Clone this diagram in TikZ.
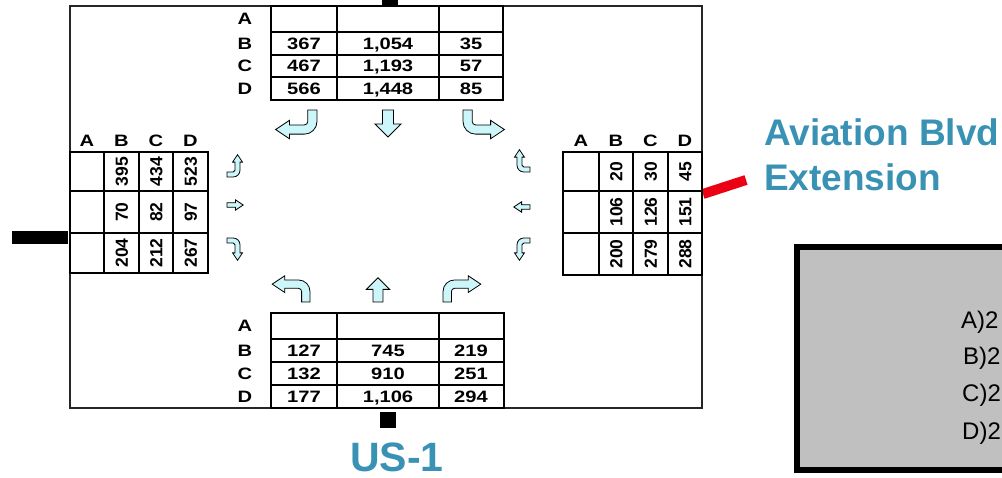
\documentclass[tikz,border=0pt]{standalone}
\usepackage{fontspec}
\setmainfont{Liberation Sans}
\definecolor{roadblue}{RGB}{57,146,180}
\definecolor{arrowcyan}{RGB}{204,246,250}
\definecolor{boxgray}{RGB}{192,192,192}
\definecolor{roadred}{RGB}{235,0,20}
\begin{document}
\begin{tikzpicture}[x=1pt,y=-1pt,
  tbl/.style={draw=black,line width=1.7pt},
  frm/.style={draw=black!85,line width=1.2pt},
  num/.style={font=\fontsize{16.5}{18}\selectfont\bfseries,inner sep=0pt,text height=11.8pt,text depth=0pt,xscale=1.22},
  vnum/.style={font=\fontsize{17.5}{19}\selectfont\bfseries,inner sep=0pt,text height=12.5pt,text depth=0pt,rotate=90},
  arr/.style={draw=black,line width=0.8pt,fill=arrowcyan,line join=miter},
  lbl/.style={font=\fontsize{37}{40}\selectfont\bfseries,text=roadblue,inner sep=0pt},
  gtxt/.style={font=\fontsize{24}{26}\selectfont,inner sep=0pt,anchor=west},
  turnarrow/.pic={\path[arr] (0,0) -- (0,10) .. controls (0,16.07) and (4.93,21) .. (11,21) -- (24,21) -- (24,25) -- (36,17) -- (24,9) -- (24,13) -- (11,13) .. controls (9.34,13) and (8,11.66) .. (8,10) -- (8,0) -- cycle;},
  straightarrow/.pic={\path[arr] (-5.5,0) -- (-5.5,14) -- (-13,14) -- (0,27) -- (13,14) -- (5.5,14) -- (5.5,0) -- cycle;}
]
\useasboundingbox (0,0) rectangle (1002,478);
\clip (0,0) rectangle (1002,478);

% outer frame
\draw[frm] (70,6) rectangle (702,408);

% road stubs
\fill (382,-3) rectangle (398,6);
\fill (12,231) rectangle (68,244);
\fill (380,412) rectangle (396,428);
\draw[roadred,line width=10pt] (703,194) -- (746,180);

% ---------- top table ----------
\draw[tbl] (271,6) rectangle (503,100);
\draw[tbl] (271,32) -- (503,32) (271,55) -- (503,55) (271,77) -- (503,77);
\draw[tbl] (337,6) -- (337,100) (439,6) -- (439,100);
\node[num] (tA) at (245,19) {A};
\node[num] (tB) at (245,43.5) {B};
\node[num] (tC) at (245,66) {C};
\node[num] (tD) at (245,88.5) {D};
\node[num] (tB1) at (304,43.5) {367};
\node[num] (tB2) at (388,43.5) {1,054};
\node[num] (tB3) at (471,43.5) {35};
\node[num] (tC1) at (304,66) {467};
\node[num] (tC2) at (388,66) {1,193};
\node[num] (tC3) at (471,66) {57};
\node[num] (tD1) at (304,88.5) {566};
\node[num] (tD2) at (388,88.5) {1,448};
\node[num] (tD3) at (471,88.5) {85};

% ---------- bottom table ----------
\draw[tbl] (271,313) rectangle (504,408);
\draw[tbl] (271,339) -- (504,339) (271,362) -- (504,362) (271,385) -- (504,385);
\draw[tbl] (337,313) -- (337,408) (439,313) -- (439,408);
\node[num] (bA) at (245,326) {A};
\node[num] (bB) at (245,350.5) {B};
\node[num] (bC) at (245,373.5) {C};
\node[num] (bD) at (245,396.5) {D};
\node[num] (bB1) at (304,350.5) {127};
\node[num] (bB2) at (388,350.5) {745};
\node[num] (bB3) at (471,350.5) {219};
\node[num] (bC1) at (304,373.5) {132};
\node[num] (bC2) at (388,373.5) {910};
\node[num] (bC3) at (471,373.5) {251};
\node[num] (bD1) at (304,396.5) {177};
\node[num] (bD2) at (388,396.5) {1,106};
\node[num] (bD3) at (471,396.5) {294};

% ---------- left table ----------
\draw[tbl] (70,152) rectangle (208,273);
\draw[tbl] (70,191) -- (208,191) (70,233) -- (208,233);
\draw[tbl] (104,152) -- (104,273) (139,152) -- (139,273) (173,152) -- (173,273);
\node[num] (lA) at (87,141) {A};
\node[num] (lB) at (121.5,141) {B};
\node[num] (lC) at (156,141) {C};
\node[num] (lD) at (190.5,141) {D};
\node[vnum] (l1B) at (121.5,171.5) {395};
\node[vnum] (l1C) at (156,171.5) {434};
\node[vnum] (l1D) at (190.5,171.5) {523};
\node[vnum] (l2B) at (121.5,212) {70};
\node[vnum] (l2C) at (156,212) {82};
\node[vnum] (l2D) at (190.5,212) {97};
\node[vnum] (l3B) at (121.5,253) {204};
\node[vnum] (l3C) at (156,253) {212};
\node[vnum] (l3D) at (190.5,253) {267};

% ---------- right table ----------
\draw[tbl] (563,152) rectangle (702,275);
\draw[tbl] (563,191) -- (702,191) (563,233) -- (702,233);
\draw[tbl] (599,152) -- (599,275) (633,152) -- (633,275) (668,152) -- (668,275);
\node[num] (rA) at (581,141) {A};
\node[num] (rB) at (616,141) {B};
\node[num] (rC) at (650.5,141) {C};
\node[num] (rD) at (685,141) {D};
\node[vnum] (r1B) at (616,171.5) {20};
\node[vnum] (r1C) at (650.5,171.5) {30};
\node[vnum] (r1D) at (685,171.5) {45};
\node[vnum] (r2B) at (616,212) {106};
\node[vnum] (r2C) at (650.5,212) {126};
\node[vnum] (r2D) at (685,212) {151};
\node[vnum] (r3B) at (616,254) {200};
\node[vnum] (r3C) at (650.5,254) {279};
\node[vnum] (r3D) at (685,254) {288};

% ---------- movement arrows ----------
% north approach
\pic[scale=1.15,xscale=-1] at (317,110) {turnarrow};
\pic at (388,110) {straightarrow};
\pic[scale=1.15] at (463,110) {turnarrow};
% south approach
\pic[scale=1.05,xscale=-1,yscale=-1] at (310,302) {turnarrow};
\pic[scale=0.9,yscale=-1] at (378,302) {straightarrow};
\pic[scale=1.05,yscale=-1] at (443,302) {turnarrow};
% west approach
\pic[scale=0.62,rotate=90] at (227,177) {turnarrow};
\pic[rotate=90,xscale=0.4,yscale=0.6] at (227,205) {straightarrow};
\pic[scale=0.62,yscale=-1,rotate=90] at (227,238) {turnarrow};
% east approach
\pic[scale=0.62,xscale=-1,rotate=90] at (530,172) {turnarrow};
\pic[rotate=-90,xscale=0.4,yscale=0.6] at (530,207) {straightarrow};
\pic[scale=0.62,xscale=-1,yscale=-1,rotate=90] at (530,238) {turnarrow};

% ---------- labels ----------
\node[lbl,anchor=west] (avi) at (764,132) {Aviation Blvd};
\node[lbl,anchor=west] (ext) at (764,177) {Extension};
\node[lbl,font=\fontsize{41}{44}\selectfont\bfseries] (us1) at (397,457) {US-1};

% ---------- grey box ----------
\draw[line width=6pt,fill=boxgray] (797,247) rectangle (1012,470);
\node[gtxt] (gA) at (961,322) {A)2};
\node[gtxt] (gB) at (963,358) {B)2};
\node[gtxt] (gC) at (962,395) {C)2};
\node[gtxt] (gD) at (962,433) {D)2};
\end{tikzpicture}
\end{document}
